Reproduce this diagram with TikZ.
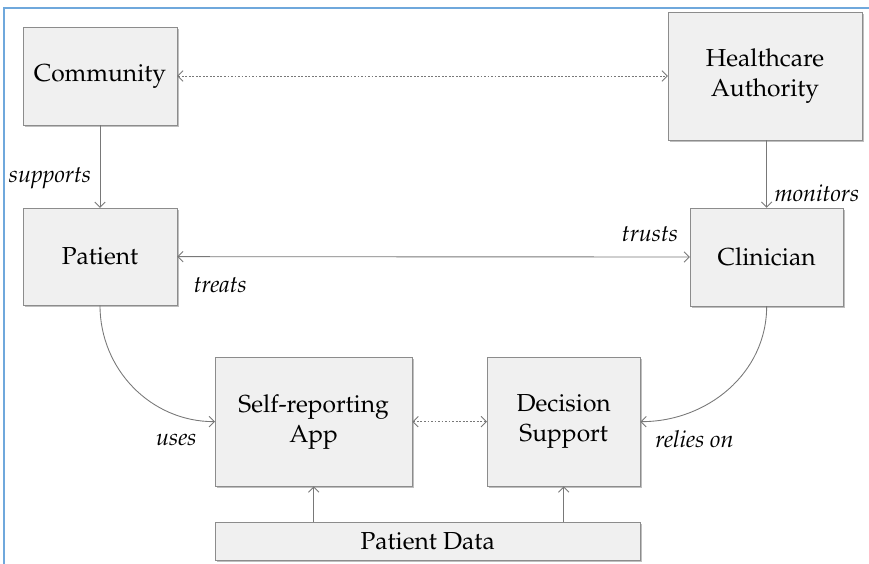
\documentclass[tikz,border=0pt]{standalone}
\usepackage[T1]{fontenc}
\usepackage{mathpazo}
\usetikzlibrary{arrows.meta,positioning,shadows}
\definecolor{boxfill}{HTML}{F0F0F0}
\definecolor{boxline}{HTML}{8C8C8C}
\definecolor{linkgray}{HTML}{787878}
\definecolor{frameblue}{HTML}{6FA8DC}
\begin{document}
\begin{tikzpicture}
		\useasboundingbox (0,0) rectangle (26.07,-16.92);
		\draw[frameblue, line width=1.2pt] (0.12,-16.92) -- (0.12,-0.24) -- (26.07,-0.24);
		\begin{scope}[every node/.style={draw=boxline, fill=boxfill, align=center, inner sep=0pt,
				drop shadow={shadow xshift=1.8pt, shadow yshift=-1.8pt, fill=black!50},
				font=\fontsize{21}{25.5}\selectfont}]
			\node (Com)[minimum width=4.62cm, minimum height=2.94cm] at (3.00,-2.28) {Community};
			\node (HA)[minimum width=5.82cm, minimum height=3.84cm] at (22.95,-2.28) {Healthcare\\Authority};
			\node (Pat)[minimum width=4.62cm, minimum height=2.91cm] at (3.00,-7.70) {Patient};
			\node (Clin)[minimum width=4.59cm, minimum height=2.94cm] at (23.00,-7.71) {Clinician};
			\node (App)[minimum width=5.91cm, minimum height=3.87cm] at (9.41,-12.65) {Self-reporting\\App};
			\node (DS)[minimum width=4.59cm, minimum height=3.87cm] at (16.91,-12.65) {Decision\\Support};
			\node (PD)[minimum width=12.75cm, minimum height=1.14cm] at (12.83,-16.23) {Patient Data};
		\end{scope}
		\begin{scope}[>={Straight Barb[length=4.5pt, width=9pt]},
				every edge/.style={draw=linkgray, line width=0.75pt},
				every node/.style={font=\itshape\fontsize{20}{24}\selectfont}]
			\path [<->] (Com.east) edge[dash pattern=on 1.6pt off 1.4pt] node {} (HA.west);
			\path [->] (Com.south) edge node[left=4pt, pos=0.64] {supports} (Pat.north);
			\path [->] (HA.south -| Clin.north) edge node[right=3pt, pos=0.78] {monitors} (Clin.north);
			\path [<->] (Pat.east) edge node[below=14pt, pos=0.084] {treats} node[above=9pt, pos=0.922] {trusts} (Clin.west);
			\path [->] (Pat.south) edge[out=-90, in=180] node[at end, below left=7pt and 12pt] {uses} (App.west);
			\path [->] (Clin.south) edge[out=-90, in=0] node[at end, below right=4pt and 9pt] {relies on} (DS.east);
			\path [<->] (App.east) edge[dash pattern=on 1.6pt off 1.4pt] node {} (DS.west);
			\path [->] (PD.north -| App.south) edge node {} (App.south);
			\path [->] (PD.north -| DS.south) edge node {} (DS.south);
		\end{scope}
	\end{tikzpicture}
\end{document}
